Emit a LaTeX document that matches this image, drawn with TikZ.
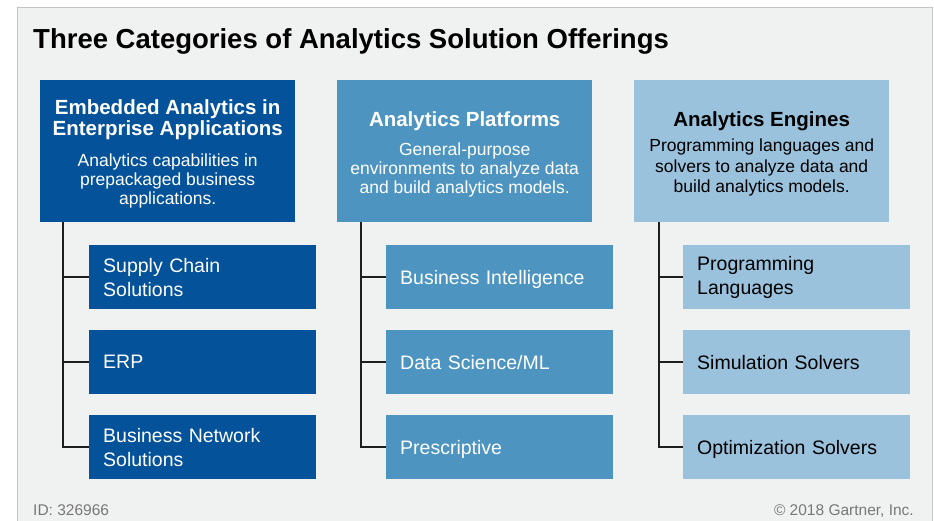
\documentclass[tikz,border=0pt]{standalone}
\usepackage{fontspec}
\setmainfont{Liberation Sans}
\definecolor{panelbg}{RGB}{240,241,241}
\definecolor{panelline}{RGB}{196,196,196}
\definecolor{darkblue}{RGB}{4,82,154}
\definecolor{midblue}{RGB}{77,149,192}
\definecolor{lightblue}{RGB}{155,194,221}
\definecolor{conncol}{RGB}{30,30,30}
\definecolor{footgray}{RGB}{120,120,120}
\newcommand{\hdfont}{\fontsize{20.5}{21}\selectfont\bfseries}
\newcommand{\subfont}{\fontsize{17.5}{19}\selectfont\mdseries}
\newcommand{\subfontb}{\fontsize{17.5}{20.5}\selectfont\mdseries}
\tikzset{
  hdrbox/.style={rectangle, minimum width=255pt, minimum height=142pt, inner sep=0pt, anchor=north west},
  childbox/.style={rectangle, minimum width=227pt, minimum height=64pt, text width=199pt, inner xsep=14pt, inner ysep=0pt,
    align=left, anchor=north west, font=\fontsize{19.5}{24}\selectfont},
  oneline/.style={text depth=0pt},
  conn/.style={draw=conncol, line width=1.5pt},
}
\begin{document}
\begin{tikzpicture}[x=1pt,y=-1pt]
\useasboundingbox (0,0) rectangle (934,521);
\fill[white] (0,0) rectangle (934,521);
\fill[panelbg] (17,8) rectangle (932,521);
\draw[panelline, line width=1pt] (17,521) -- (17,8) -- (932,8) -- (932,521);

\node[anchor=base west, font=\fontsize{27.5}{30}\selectfont\bfseries, inner sep=0pt] (title) at (33,49) {Three Categories of Analytics Solution Offerings};

% headers
\node[hdrbox, fill=darkblue, text=white] (h1) at (40,80) {\parbox{250pt}{\vspace*{6pt}\centering\hdfont Embedded Analytics in\\Enterprise Applications\par\vspace{12pt}\subfont Analytics capabilities in\\prepackaged business\\applications.\par}};
\node[hdrbox, fill=midblue, text=white] (h2) at (337,80) {\parbox{250pt}{\vspace*{6pt}\centering\hdfont Analytics Platforms\par\vspace{10pt}\subfont General-purpose\\environments to analyze data\\and build analytics models.\par}};
\node[hdrbox, fill=lightblue, text=black] (h3) at (634,80) {\parbox{250pt}{\vspace*{6pt}\centering\hdfont Analytics Engines\par\vspace{4.5pt}\subfontb Programming languages and\\solvers to analyze data and\\build analytics models.\par}};

% children column 1
\node[childbox, fill=darkblue, text=white] (c11) at (89,245) {Supply Chain\\Solutions};
\node[childbox, oneline, fill=darkblue, text=white] (c12) at (89,330) {ERP};
\node[childbox, fill=darkblue, text=white] (c13) at (89,415) {Business Network\\Solutions};
% children column 2
\node[childbox, oneline, fill=midblue, text=white] (c21) at (386,245) {Business Intelligence};
\node[childbox, oneline, fill=midblue, text=white] (c22) at (386,330) {Data Science/ML};
\node[childbox, oneline, fill=midblue, text=white] (c23) at (386,415) {Prescriptive};
% children column 3
\node[childbox, fill=lightblue, text=black] (c31) at (683,245) {Programming\\Languages};
\node[childbox, oneline, fill=lightblue, text=black] (c32) at (683,330) {Simulation Solvers};
\node[childbox, oneline, fill=lightblue, text=black] (c33) at (683,415) {Optimization Solvers};

% connectors
\coordinate (v1) at ([xshift=23pt]h1.south west);
\coordinate (v2) at ([xshift=24pt]h2.south west);
\coordinate (v3) at ([xshift=25pt]h3.south west);
\draw[conn] (v1) |- (c13.west);
\draw[conn] (c11.west -| v1) -- (c11.west);
\draw[conn] (c12.west -| v1) -- (c12.west);
\draw[conn] (v2) |- (c23.west);
\draw[conn] (c21.west -| v2) -- (c21.west);
\draw[conn] (c22.west -| v2) -- (c22.west);
\draw[conn] (v3) |- (c33.west);
\draw[conn] (c31.west -| v3) -- (c31.west);
\draw[conn] (c32.west -| v3) -- (c32.west);

% footer
\node[anchor=base west, font=\fontsize{15.5}{17}\selectfont, text=footgray, inner sep=0pt] (fid) at (33,515.5) {ID: 326966};
\node[anchor=base east, font=\fontsize{15.5}{17}\selectfont, text=footgray, inner sep=0pt] (fcopy) at (914,515.5) {© 2018 Gartner, Inc.};
\end{tikzpicture}
\end{document}
